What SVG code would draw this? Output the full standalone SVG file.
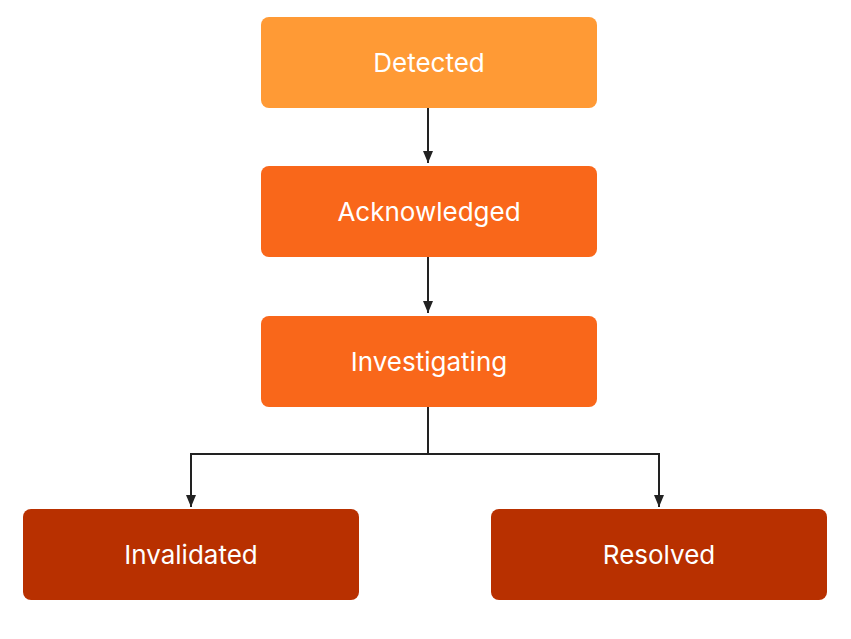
<svg xmlns="http://www.w3.org/2000/svg" width="851" height="639" viewBox="0 0 851 639">
<style>
.t{font-family:Inter,"Noto Sans",sans-serif;font-size:26px;fill:#fff;text-anchor:middle;dominant-baseline:central}
.c{fill:none;stroke:#222;stroke-width:2}
</style>
<defs><marker id="a" markerWidth="12" markerHeight="10" refX="12" refY="5" orient="auto" markerUnits="userSpaceOnUse"><path d="M0,0L12,5L0,10z" fill="#222"/></marker></defs>
<rect width="851" height="639" fill="#fff"/>
<g id="connectors">
<path class="c" d="M428,108V163" marker-end="url(#a)"/>
<path class="c" d="M428,257V313" marker-end="url(#a)"/>
<path class="c" d="M428,407V454H191V507" marker-end="url(#a)"/>
<path class="c" d="M428,454H659V507" marker-end="url(#a)"/>
</g>
<g id="detected"><rect x="261" y="17" width="336" height="91" rx="8" fill="#FF9A35"/><text class="t" x="429" y="62">Detected</text></g>
<g id="acknowledged"><rect x="261" y="166" width="336" height="91" rx="8" fill="#F9671A"/><text class="t" x="429" y="211">Acknowledged</text></g>
<g id="investigating"><rect x="261" y="316" width="336" height="91" rx="8" fill="#F9671A"/><text class="t" x="429" y="361">Investigating</text></g>
<g id="invalidated"><rect x="23" y="509" width="336" height="91" rx="8" fill="#B83000"/><text class="t" x="191" y="554">Invalidated</text></g>
<g id="resolved"><rect x="491" y="509" width="336" height="91" rx="8" fill="#B83000"/><text class="t" x="659" y="554">Resolved</text></g>
</svg>
